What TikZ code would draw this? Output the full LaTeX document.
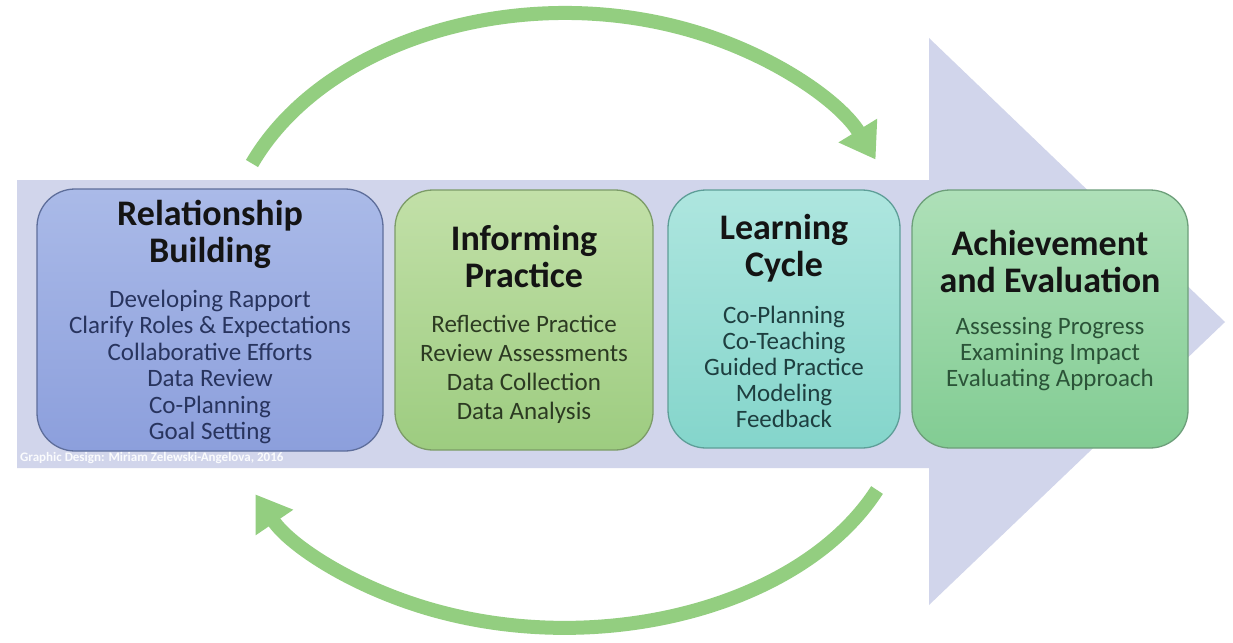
\documentclass[tikz,border=0pt]{standalone}
\usepackage{fontspec}
\setmainfont{Carlito}
\usetikzlibrary{arrows.meta}
\definecolor{lav}{HTML}{D1D5EB}
\definecolor{arcgreen}{HTML}{93CE80}
\definecolor{bAt}{HTML}{AABAE8}\definecolor{bAb}{HTML}{8C9FDC}\definecolor{bAd}{HTML}{5E6E9B}
\definecolor{bBt}{HTML}{C2E0A8}\definecolor{bBb}{HTML}{9DCC80}\definecolor{bBd}{HTML}{7C9C68}
\definecolor{bCt}{HTML}{AEE6DF}\definecolor{bCb}{HTML}{84D5CB}\definecolor{bCd}{HTML}{5E9E98}
\definecolor{bDt}{HTML}{AEE0B8}\definecolor{bDb}{HTML}{82CC93}\definecolor{bDd}{HTML}{6D9F7A}
\definecolor{txA}{HTML}{28345E}\definecolor{txB}{HTML}{2C3A22}
\definecolor{txC}{HTML}{1E3F40}\definecolor{txD}{HTML}{2B5438}
\tikzset{
  stagebox/.style={rounded corners=38pt, line width=1.3pt, inner sep=0pt},
  titletext/.style={align=center, text=black!92, font=\fontsize{36}{37}\selectfont\bfseries, inner sep=0pt},
  bodytext/.style={align=center, inner sep=0pt},
  cyclearc/.style={line width=14pt, draw=arcgreen, -{Triangle[length=34pt,width=43pt]}}
}
\begin{document}
\begin{tikzpicture}[x=1pt,y=-1pt]
\useasboundingbox (0,0) rectangle (1233,642);
\fill[white] (0,0) rectangle (1233,642);
% big arrow
\fill[lav] (17,180) -- (929,180) -- (929,38) -- (1225,322) -- (929,605) -- (929,468) -- (17,468) -- cycle;
% boxes
\node[stagebox, draw=bAd, top color=bAt, bottom color=bAb, minimum width=346pt, minimum height=262pt] (b1) at (210,320) {};
\node[stagebox, draw=bBd, top color=bBt, bottom color=bBb, minimum width=258pt, minimum height=260pt] (b2) at (524,320) {};
\node[stagebox, draw=bCd, top color=bCt, bottom color=bCb, minimum width=232pt, minimum height=258pt] (b3) at (784,319) {};
\node[stagebox, draw=bDd, top color=bDt, bottom color=bDb, minimum width=276pt, minimum height=258pt] (b4) at (1050,319) {};
% titles
\node[titletext] (t1) at (210,234) {Relationship\\Building};
\node[titletext] (t2) at (524,256) {Informing\\Practice};
\node[titletext] (t3) at (784,248) {Learning\\Cycle};
\node[titletext] (t4) at (1050,261) {Achievement\\and Evaluation};
% bodies
\node[bodytext, text=txA, font=\fontsize{25}{26.4}\selectfont] (l1) at (210,367) {Developing Rapport\\Clarify Roles \& Expectations\\Collaborative Efforts\\Data Review\\Co-Planning\\Goal Setting};
\node[bodytext, text=txB, font=\fontsize{25}{29}\selectfont] (l2) at (524,369) {Reflective Practice\\Review Assessments\\Data Collection\\Data Analysis};
\node[bodytext, text=txC, font=\fontsize{25}{25.8}\selectfont] (l3) at (784,367) {Co-Planning\\Co-Teaching\\Guided Practice\\Modeling\\Feedback};
\node[bodytext, text=txD, font=\fontsize{25}{26}\selectfont] (l4) at (1050,354) {Assessing Progress\\Examining Impact\\Evaluating Approach};
% watermark
\node[anchor=west, inner sep=0pt, text=white!90!lav, font=\fontsize{13}{14}\selectfont\bfseries] (wm) at (20,458) {Graphic Design: Miriam Zelewski-Angelova, 2016};
% cycle arcs
\coordinate (topstart) at (252,163.5);
\coordinate (botstart) at (877,490);
\draw[cyclearc] (topstart) arc[start angle=203, end angle=336, x radius=340, y radius=247];
\draw[cyclearc] (botstart) arc[start angle=23.3, end angle=155.5, x radius=340, y radius=228];
\end{tikzpicture}
\end{document}
